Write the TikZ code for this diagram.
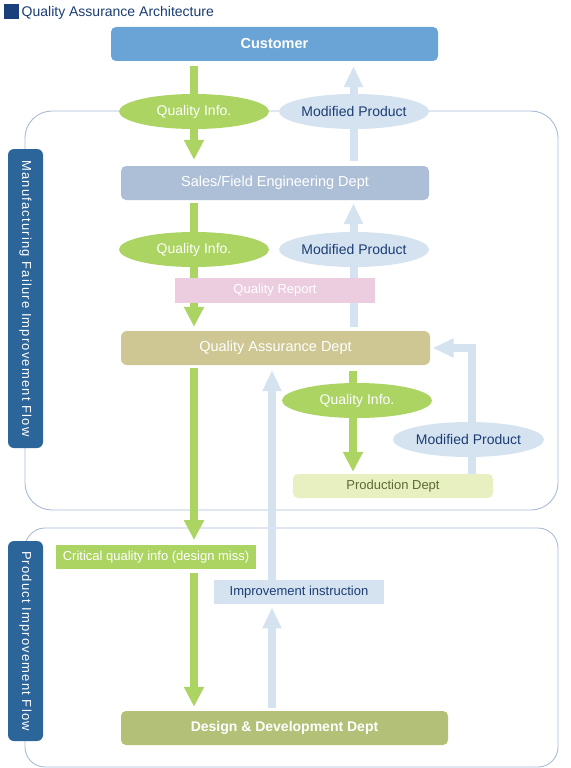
\documentclass[tikz,border=0pt]{standalone}
\usepackage{fontspec}
\setmainfont{Liberation Sans}
\newfontfamily\spacedsans[LetterSpace=9]{Liberation Sans}
\usetikzlibrary{arrows.meta,shapes.geometric,calc}
\definecolor{navy}{HTML}{1B3D73}
\definecolor{titlesq}{HTML}{1A3F7A}
\definecolor{custc}{HTML}{6AA3D5}
\definecolor{salesc}{HTML}{ADBFD6}
\definecolor{qac}{HTML}{CEC793}
\definecolor{prodc}{HTML}{E8F0C2}
\definecolor{prodtext}{HTML}{5A6B32}
\definecolor{designc}{HTML}{B2C177}
\definecolor{qgreen}{HTML}{ACD462}
\definecolor{qblue}{HTML}{D5E3F1}
\definecolor{pinkc}{HTML}{ECCDE0}
\definecolor{framec}{HTML}{AABCD5}
\definecolor{labelc}{HTML}{2C6599}
\begin{document}
\begin{tikzpicture}[x=1pt,y=-1pt,
  box/.style={inner sep=0pt, text=white, font=\fontsize{14.5}{17}\selectfont, minimum height=34pt},
  flat/.style={inner sep=0pt, font=\fontsize{13}{15}\selectfont, minimum height=24.5pt},
  ell/.style={ellipse, inner sep=0pt, minimum width=150pt, minimum height=35pt, font=\fontsize{14}{16}\selectfont},
  gell/.style={ell, fill=qgreen, text=white},
  bell/.style={ell, fill=qblue, text=navy},
  garrow/.style={draw=qgreen, line width=8.5pt, -{Triangle[width=19pt,length=20pt]}},
  barrow/.style={draw=qblue, line width=8pt, -{Triangle[width=18pt,length=21pt]}},
  frame/.style={draw=framec, line width=0.9pt},
  sidelabel/.style={fill=labelc, text=white, rounded corners=6pt, rotate=-90, inner sep=0pt,
     minimum height=35pt, font=\spacedsans\fontsize{13}{15}\selectfont}
]
\useasboundingbox (0,0) rectangle (570,768);
\fill[white] (0,0) rectangle (570,768);

% title
\fill[titlesq] (4,4) rectangle (19,19);
\node[anchor=west, text=navy, font=\fontsize{14}{16}\selectfont, inner sep=0pt] (title) at (21.5,13) {Quality Assurance Architecture};

% frames
\draw[frame, rounded corners=27pt] (25,111) rectangle (558,510);
\draw[frame, rounded corners=20pt] (25,528) rectangle (558,767);

% boxes (placed first as nodes to be referenced; drawn later on top of arrows)
\path
  node[box, minimum width=327pt] (cust) at (274.5,44) {}
  node[box, minimum width=308pt] (sales) at (275,183) {}
  node[box, minimum width=309pt] (qa) at (275.5,348) {}
  node[flat, minimum width=200pt, minimum height=24pt] (prod) at (393,486) {}
  node[flat, minimum width=200pt] (crit) at (156,557) {}
  node[flat, minimum width=170pt] (impr) at (299,592) {}
  node[box, minimum width=327pt] (design) at (284.5,728) {}
  node[flat, minimum width=200pt, minimum height=25pt] (qrep) at (275,290.5) {};

\coordinate (gx) at (194,0);
\coordinate (bx) at (353.5,0);
\coordinate (ix) at (272,0);
\coordinate (px) at (353,0);

% arrows
\draw[garrow] ($(gx |- cust.south)+(0,5)$) -- ($(gx |- sales.north)+(0,-6)$);
\draw[barrow] ($(bx |- sales.north)+(0,-5)$) -- ($(bx |- cust.south)+(0,5)$);
\draw[garrow] ($(gx |- sales.south)+(0,3)$) -- ($(gx |- qa.north)+(0,-4)$);
\draw[barrow] ($(bx |- qa.north)+(0,-4)$) -- ($(bx |- sales.south)+(0,3)$);
\draw[garrow] ($(gx |- qa.south)+(0,3)$) -- ($(gx |- crit.north)+(0,-4.5)$);
\draw[garrow] ($(gx |- crit.south)+(0,4)$) -- ($(gx |- design.north)+(0,-4)$);
\draw[barrow] ($(ix |- design.north)+(0,-3)$) -- ($(ix |- impr.south)+(0,3)$);
\draw[barrow] ($(ix |- impr.north)+(0,3)$) -- ($(ix |- qa.south)+(0,5)$);
\draw[garrow] ($(px |- qa.south)+(0,6)$) -- ($(px |- prod.north)+(0,-2)$);
\draw[barrow] ($(prod.north east)+(-21.5,1)$) |- ($(qa.east)+(2.5,0)$);

% box fills
\node[box, minimum width=327pt, fill=custc, rounded corners=5pt, font=\bfseries\fontsize{14.5}{17}\selectfont] at (cust) {Customer};
\node[box, minimum width=308pt, fill=salesc, rounded corners=5pt] at (sales) {Sales/Field Engineering Dept};
\node[box, minimum width=309pt, fill=qac, rounded corners=6pt] at (qa) {Quality Assurance Dept};
\node[flat, minimum width=200pt, minimum height=24pt, fill=prodc, text=prodtext, rounded corners=5pt] at (prod) {Production Dept};
\node[flat, minimum width=200pt, fill=qgreen, text=white] at (crit) {Critical quality info (design miss)};
\node[flat, minimum width=170pt, fill=qblue, text=navy] at (impr) {Improvement instruction};
\node[box, minimum width=327pt, fill=designc, rounded corners=5pt, font=\bfseries\fontsize{14}{17}\selectfont] at (design) {Design \& Development Dept};
\node[flat, minimum width=200pt, minimum height=25pt, fill=pinkc, text=white] at (qrep) {Quality Report};

% ellipses
\node[gell] (qi1) at (194,111.5) {Quality Info.};
\node[bell] (mp1) at (354,111.5) {Modified Product};
\node[gell] (qi2) at (194,249.5) {Quality Info.};
\node[bell] (mp2) at (354,249.5) {Modified Product};
\node[gell] (qi3) at (357,400.5) {Quality Info.};
\node[bell, minimum width=151pt] (mp3) at (468.5,439.5) {Modified Product};

% side labels
\node[sidelabel, minimum width=299pt] (lab1) at (25.5,298.5) {Manufacturing Failure Improvement Flow};
\node[sidelabel, minimum width=200pt] (lab2) at (25.5,641) {Product Improvement Flow};
\end{tikzpicture}
\end{document}
